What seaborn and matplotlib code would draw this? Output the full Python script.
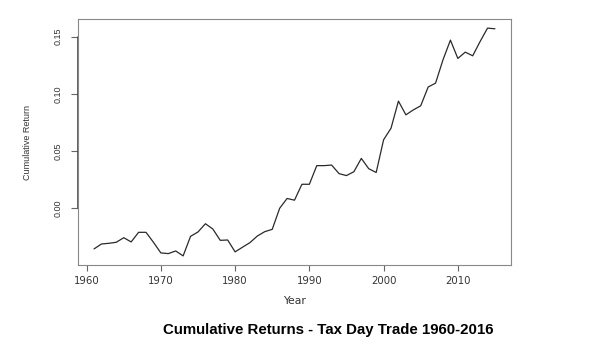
import matplotlib
matplotlib.use("Agg")
import matplotlib.pyplot as plt
import seaborn as sns
import pandas as pd

years = list(range(1961, 2016))
cum_return = [
    -0.0355, -0.0312, -0.0306, -0.0297, -0.0257, -0.0294, -0.0210, -0.0210, -0.0297, -0.0390,
    -0.0396, -0.0373, -0.0416, -0.0245, -0.0207, -0.0135, -0.0181, -0.0280, -0.0277, -0.0381,
    -0.0340, -0.0300, -0.0242, -0.0204, -0.0184, 0.0000, 0.0086, 0.0071, 0.0210, 0.0210,
    0.0373, 0.0373, 0.0378, 0.0303, 0.0286, 0.0320, 0.0436, 0.0346, 0.0313, 0.0599,
    0.0700, 0.0937, 0.0817, 0.0860, 0.0896, 0.1060, 0.1094, 0.1298, 0.1470, 0.1310,
    0.1365, 0.1333, 0.1458, 0.1575, 0.1569,
]
x_ticks = [1960, 1970, 1980, 1990, 2000, 2010]
y_ticks = [0.00, 0.05, 0.10, 0.15]
y_tick_labels = ["0.00", "0.05", "0.10", "0.15"]

df = pd.DataFrame({"Year": years, "Cumulative Return": cum_return})

sns.set_style("white")
plt.rcParams["font.family"] = ["Liberation Sans", "DejaVu Sans"]

fig = plt.figure(figsize=(5.89, 3.59), dpi=100)
ax = fig.add_axes([78 / 589, 1 - 265 / 359, (511 - 78) / 589, (265 - 19) / 359])

sns.lineplot(data=df, x="Year", y="Cumulative Return", ax=ax, color="#2a2a2a", linewidth=0.9)

span = max(years) - min(years)
ax.set_xlim(min(years) - 0.04 * span, max(years) + 0.04 * span)
yr = max(cum_return) - min(cum_return)
ax.set_ylim(min(cum_return) - 0.04 * yr, max(cum_return) + 0.04 * yr)

for s in ax.spines.values():
    s.set_color("#888888")
    s.set_linewidth(0.8)

ax.set_xticks(x_ticks)
ax.set_xticklabels([str(t) for t in x_ticks], fontsize=7.3, color="#333333",
                   family=["DejaVu Sans"])
ax.set_yticks(y_ticks)
ax.set_yticklabels(y_tick_labels, fontsize=6.5, color="#333333", rotation=90, va="center",
                   family=["Liberation Sans Narrow", "Liberation Sans"])
ax.tick_params(axis="x", length=4, width=0.8, color="#666666", direction="out",
               bottom=True, pad=4)
ax.tick_params(axis="y", length=5, width=0.8, color="#666666", direction="out",
               left=True, pad=6)
# darker axis line between the first and last y ticks (R style)
ax.plot([0, 0], [y_ticks[0], y_ticks[-1]], transform=ax.get_yaxis_transform(),
        color="#444444", linewidth=1.2, clip_on=False)

ax.set_xlabel("Year", fontsize=7.8, color="#333333", labelpad=7, family=["DejaVu Sans"])
ax.set_ylabel("Cumulative Return", fontsize=6.5, color="#333333", labelpad=16,
              family=["Liberation Sans Narrow", "Liberation Sans"])

fig.text(328 / 589, 1 - 330 / 359, "Cumulative Returns - Tax Day Trade 1960-2016",
         ha="center", va="center", fontsize=10.8, fontweight="bold", color="black")

fig.savefig("out.png", dpi=100)
